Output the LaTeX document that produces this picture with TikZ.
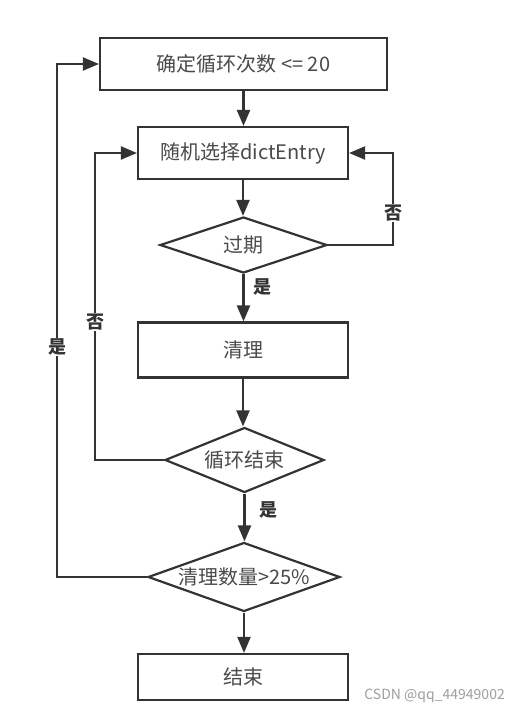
\documentclass[tikz,border=0pt]{standalone}
\usepackage{fontspec}
\setmainfont{Noto Sans CJK SC}
\usetikzlibrary{shapes.geometric,arrows.meta,calc}
\definecolor{ln}{HTML}{333333}
\definecolor{tx}{HTML}{4A4A4A}
\begin{document}
\begin{tikzpicture}[x=1pt,y=-1pt,
  box/.style={draw=ln,line width=2.2pt,rectangle,inner sep=0pt,text=tx,font=\fontsize{20}{20}\selectfont},
  dia/.style={draw=ln,line width=2.2pt,diamond,inner sep=0pt,text=tx,font=\fontsize{20}{20}\selectfont},
  conn/.style={draw=ln,line width=2.2pt,-{Triangle[length=16pt,width=13pt]}},
  lab/.style={text=ln,font=\fontsize{18}{18}\selectfont\bfseries,inner sep=1pt}]
\useasboundingbox (0,0) rectangle (520,712);
\fill[white] (0,0) rectangle (520,712);
\node[box,minimum width=287pt,minimum height=52pt] (b1) at (243.5,64) {确定循环次数 <= 20};
\node[box,minimum width=210pt,minimum height=52pt] (b2) at (243,153) {随机选择dictEntry};
\node[dia,minimum width=167pt,minimum height=56pt,shape aspect=2.98] (d1) at (243.5,245) {过期};
\node[box,minimum width=210pt,minimum height=55pt] (b3) at (243,350) {清理};
\node[dia,minimum width=159pt,minimum height=65pt,shape aspect=2.45] (d2) at (244.5,460) {循环结束};
\node[dia,minimum width=192pt,minimum height=69pt,shape aspect=2.78] (d3) at (244,577) {清理数量>25\%};
\node[box,minimum width=210pt,minimum height=46pt] (b4) at (243,677) {结束};
\coordinate (r1) at (393,153);
\coordinate (l1) at (95,153);
\coordinate (l2) at (57,64);
\draw[conn] (b1.south) -- (b1.south |- b2.north);
\draw[conn] (b2.south) -- (b2.south |- d1.north);
\draw[conn] (d1.south) -- (d1.south |- b3.north);
\draw[conn] (b3.south) -- (b3.south |- d2.north);
\draw[conn] (d2.south) -- (d2.south |- d3.north);
\draw[conn] (d3.south) -- (d3.south |- b4.north);
\draw[conn] (d1.east) -| (r1) -- (b2.east);
\draw[conn] (d2.west) -| (l1) -- (b2.west);
\draw[conn] (d3.west) -| (l2) -- (b1.west);
\node[lab] (y1) at (262,287) {是};
\node[lab] (y2) at (268,510) {是};
\node[lab,fill=white] (n1) at (393,213) {否};
\node[lab,fill=white] (n2) at (95,322) {否};
\node[lab,fill=white] (y3) at (57,347) {是};
\node[text=gray!75,font=\fontsize{14}{14}\selectfont,anchor=east,inner sep=0pt] (wm) at (505,696) {CSDN @qq\_44949002};
\end{tikzpicture}
\end{document}
